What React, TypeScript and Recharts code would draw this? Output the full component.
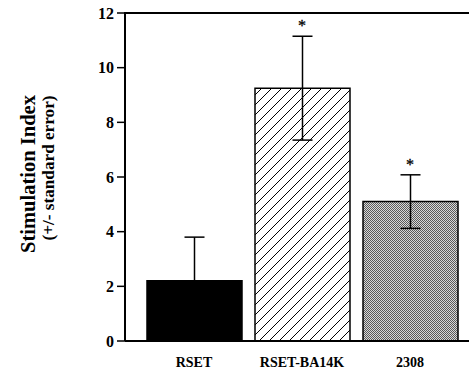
import React from "react";
import {
  ComposedChart,
  Bar,
  Scatter,
  XAxis,
  YAxis,
  ErrorBar,
  Cell,
} from "recharts";

const categories = ["RSET", "RSET-BA14K", "2308"];
const means = [2.2, 9.25, 5.1];
const errors = [1.6, 1.9, 0.98];
const marks = ["", "*", "*"];
const yTicks = [0, 2, 4, 6, 8, 10, 12];

const FILLS = ["#000000", "url(#hatch)", "url(#stipple)"];
const FONT = '"Liberation Serif", "Times New Roman", serif';
const CHART_W = 469;
const CHART_H = 373;
const MARGIN = { top: 13, right: 0, left: 60, bottom: 0 };
const Y_AXIS_W = 65;

const data = categories.map((name, i) => ({
  name,
  mean: means[i],
  err: errors[i],
  top: means[i] + errors[i],
  mark: marks[i],
}));

// asterisk drawn just above the error bar cap
const StarShape = (props: any) => {
  const { cx, cy, payload } = props;
  if (!payload.mark) return <g />;
  return (
    <text
      x={cx}
      y={cy - 5}
      textAnchor="middle"
      fontFamily={FONT}
      fontSize={16}
      fill="#000"
      stroke="#000"
      strokeWidth={0.3}
    >
      {payload.mark}
    </text>
  );
};

const YLabel = () => (
  <g fontFamily={FONT} fill="#000">
    <text
      transform="translate(35,174) rotate(-90)"
      textAnchor="middle"
      fontSize={21}
      fontWeight="bold"
      textLength={158}
      lengthAdjust="spacingAndGlyphs"
    >
      Stimulation Index
    </text>
    <text
      transform="translate(54,168) rotate(-90)"
      textAnchor="middle"
      fontSize={16}
      fontWeight="bold"
      textLength={145}
      lengthAdjust="spacingAndGlyphs"
    >
      (+/- standard error)
    </text>
  </g>
);

export default function App() {
  const plotLeft = MARGIN.left + Y_AXIS_W;
  return (
    <div style={{ position: "absolute", left: 0, top: 0, width: CHART_W, height: CHART_H, background: "#fff" }}>
      <ComposedChart width={CHART_W} height={CHART_H} data={data} margin={MARGIN}>
        <defs>
          <pattern id="hatch" patternUnits="userSpaceOnUse" width={10} height={10}>
            <rect width={10} height={10} fill="#fff" />
            <path d="M0,10 L10,0 M-3,3 L3,-3 M7,13 L13,7" stroke="#000" strokeWidth={1} />
          </pattern>
          <pattern id="stipple" patternUnits="userSpaceOnUse" width={2} height={2}>
            <rect width={2} height={2} fill="#d8d8d8" />
            <rect x={0} y={0} width={1} height={1} fill="#5a5a5a" />
            <rect x={1} y={1} width={1} height={1} fill="#5a5a5a" />
          </pattern>
        </defs>
        <XAxis
          dataKey="name"
          height={32}
          padding={{ left: 15, right: 5 }}
          axisLine={{ stroke: "#000", strokeWidth: 2 }}
          tickLine={false}
          tickMargin={10}
          tick={{ fontFamily: FONT, fontSize: 14, fontWeight: "bold", fill: "#000" }}
          interval={0}
        />
        <YAxis
          domain={[0, 12]}
          ticks={yTicks}
          width={Y_AXIS_W}
          axisLine={{ stroke: "#000", strokeWidth: 2 }}
          tickLine={{ stroke: "#000", strokeWidth: 1.5 }}
          tickSize={8}
          tickMargin={3}
          tick={{ fontFamily: FONT, fontSize: 16, fontWeight: "bold", fill: "#000" }}
          label={{ content: () => <YLabel /> }}
        />
        <Bar dataKey="mean" barSize={95} stroke="#000" strokeWidth={1.5} isAnimationActive={false}>
          {data.map((d, i) => (
            <Cell key={d.name} fill={FILLS[i]} />
          ))}
          <ErrorBar dataKey="err" width={10} stroke="#000" strokeWidth={1.5} direction="y" />
        </Bar>
        <Scatter dataKey="top" fill="#000" shape={StarShape} isAnimationActive={false} />
      </ComposedChart>
      {/* top frame rule of the plot box */}
      <div
        style={{
          position: "absolute",
          left: plotLeft - 1,
          top: MARGIN.top - 1,
          width: CHART_W - plotLeft + 1,
          height: 2,
          background: "#000",
          pointerEvents: "none",
        }}
      />
    </div>
  );
}
